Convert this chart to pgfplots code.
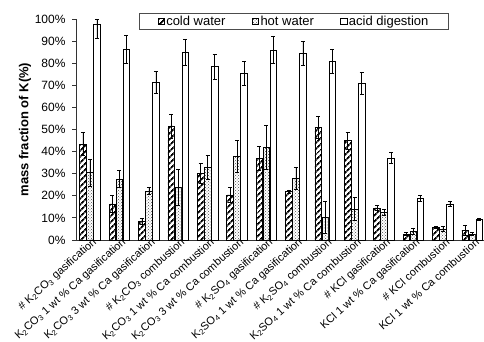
\documentclass[border=0pt]{standalone}
\usepackage{fontspec}
\setmainfont{Liberation Sans}
\usepackage{pgfplots}
\pgfplotsset{compat=1.18}
\usetikzlibrary{patterns,patterns.meta}
\newcommand{\sub}[1]{\textsubscript{#1}}
\begin{document}
\begin{tikzpicture}[x=1pt,y=1pt]
\useasboundingbox (0,0) rectangle (484,342);
\begin{axis}[
  at={(76pt,102pt)}, anchor=south west,
  scale only axis, width=408pt, height=221pt,
  xmin=0.524, xmax=14.4, ymin=0, ymax=100,
  clip=false,
  ybar=0.5pt, bar width=6.5pt,
  axis x line*=bottom, axis y line*=left,
  axis line style={black!80, line width=0.8pt},
  xtick={1,...,14},
  xticklabels={
    {\# K\sub{2}CO\sub{3} gasification},
    {K\sub{2}CO\sub{3} 1 wt \% Ca gasification},
    {K\sub{2}CO\sub{3} 3 wt \% Ca gasification},
    {\# K\sub{2}CO\sub{3} combustion},
    {K\sub{2}CO\sub{3} 1 wt \% Ca combustion},
    {K\sub{2}CO\sub{3} 3 wt \% Ca combustion},
    {\# K\sub{2}SO\sub{4} gasification},
    {K\sub{2}SO\sub{4} 1 wt \% Ca gasification},
    {\# K\sub{2}SO\sub{4} combustion},
    {K\sub{2}SO\sub{4} 1 wt \% Ca combustion},
    {\# KCl gasification},
    {KCl 1 wt \% Ca gasification},
    {\# KCl combustion},
    {KCl 1 wt \% Ca combustion}},
  x tick label style={rotate=42, anchor=east, font=\fontsize{11}{11}\selectfont, inner sep=1pt, xshift=7pt, yshift=-1pt},
  x tick style={draw=none},
  ytick={0,10,...,100},
  yticklabel={\pgfmathparse{int(\tick)}\pgfmathresult\%},
  y tick label style={font=\fontsize{12}{12}\selectfont, xshift=-3pt},
  tick align=outside, major tick length=4pt,
  y tick style={black!80, line width=0.8pt},
  ylabel={\bfseries mass fraction of K(\%)},
  ylabel style={at={(axis description cs:-0.125,0.5)}, anchor=center, font=\fontsize{13}{13}\selectfont},
  legend style={at={(axis description cs:0.534,1.027)}, anchor=north,
    legend columns=3, draw=black!70, line width=0.6pt,
    font=\fontsize{13}{13}\selectfont, inner xsep=18pt, inner ysep=1pt,
    /tikz/every even column/.append style={column sep=25pt},
    nodes={inner sep=1.5pt}},
  legend image code/.code={\draw[#1, line width=0.6pt] (0pt,-3.2pt) rectangle (6.4pt,3.2pt);},
  error bars/y dir=both, error bars/y explicit,
  error bars/error bar style={black, line width=0.6pt},
  error bars/error mark options={rotate=90, mark size=2pt, black, line width=0.6pt},
]
\addplot[draw=black, line width=0.6pt,
  pattern={Lines[angle=45, distance=4pt, line width=1.8pt]}, pattern color=black]
  coordinates {
  (1,43.4) +- (0,5.2)
  (2,16.3) +- (0,3.8)
  (3,8.5) +- (0,1.2)
  (4,51.6) +- (0,5.5)
  (5,30.2) +- (0,4.5)
  (6,20.4) +- (0,3.4)
  (7,37) +- (0,5.5)
  (8,21.9) +- (0,0.8)
  (9,51) +- (0,5)
  (10,44.9) +- (0,3.7)
  (11,14.5) +- (0,1)
  (12,2.7) +- (0,0.7)
  (13,5.7) +- (0,0.4)
  (14,4.5) +- (0,2.3)
  };
\addlegendentry{cold water}
\addplot[draw=black, line width=0.6pt,
  pattern=crosshatch dots, pattern color=black!70]
  coordinates {
  (1,30.6) +- (0,6.1)
  (2,27.6) +- (0,3.8)
  (3,22.2) +- (0,1.7)
  (4,23.8) +- (0,8)
  (5,32.9) +- (0,5.6)
  (6,38) +- (0,7.2)
  (7,42) +- (0,10)
  (8,27.9) +- (0,5)
  (9,10.3) +- (0,7.3)
  (10,13.9) +- (0,5.2)
  (11,12.5) +- (0,1.5)
  (12,4) +- (0,1.5)
  (13,5) +- (0,1.2)
  (14,2.7) +- (0,0.8)
  };
\addlegendentry{hot water}
\addplot[draw=black, line width=0.6pt, fill=white]
  coordinates {
  (1,97.6) += (0,2.4) -= (0,6.5)
  (2,86.4) +- (0,6.3)
  (3,71.4) +- (0,5)
  (4,85) +- (0,5.8)
  (5,78.4) +- (0,5.6)
  (6,75.4) +- (0,5.3)
  (7,86) +- (0,6)
  (8,84.5) +- (0,5.5)
  (9,81) +- (0,5.4)
  (10,70.9) +- (0,5.1)
  (11,37) +- (0,2.5)
  (12,18.9) +- (0,1.2)
  (13,16.3) +- (0,1.2)
  (14,9.3) +- (0,0.6)
  };
\addlegendentry{acid digestion}
\end{axis}
\end{tikzpicture}
\end{document}
